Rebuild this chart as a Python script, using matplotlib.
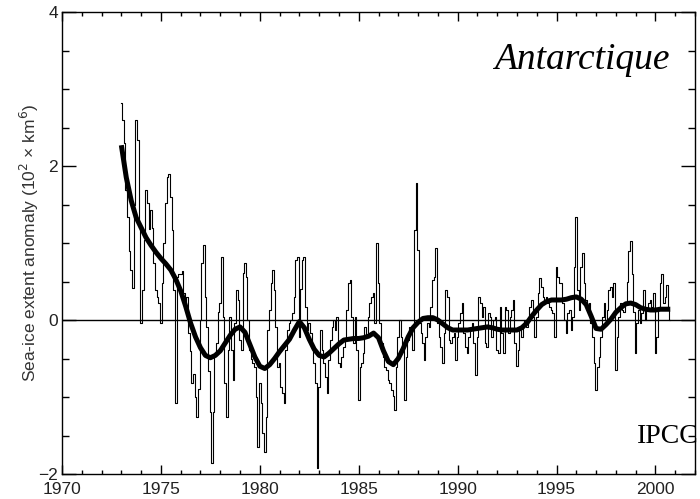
import matplotlib
matplotlib.use("Agg")
import matplotlib.pyplot as plt
import numpy as np
from matplotlib.ticker import MultipleLocator

# Monthly sea-ice extent anomaly, one list per year
y1973 = [2.82, 2.6, 2.3, 1.69, 1.34, 0.9, 0.65, 0.42, 1.5, 2.6, 2.34, 1.2]
y1974 = [-0.04, 0.39, 1.04, 1.69, 1.52, 1.18, 1.43, 1.2, 0.74, 0.39, 0.3, 0.22]
y1975 = [-0.04, 0.48, 1.0, 1.52, 1.86, 1.9, 1.6, 1.17, 0.39, -1.08, 0.56, 0.6]
y1976 = [0.6, 0.63, 0.35, 0.17, 0.3, -0.17, -0.4, -0.82, -0.7, -1.0, -1.26, -0.9]
y1977 = [0.0, 0.74, 0.97, 0.3, -0.09, -0.66, -1.2, -1.86, -1.2, -0.44, -0.3, 0.1]
y1978 = [0.22, 0.82, 0.04, -0.82, -1.26, -0.39, 0.04, -0.39, -0.78, -0.04, 0.39, 0.26]
y1979 = [-0.26, -0.39, 0.61, 0.74, 0.56, 0.0, -0.39, -0.5, -0.56, -0.61, -1.0, -1.65]
y1980 = [-0.82, -1.08, -1.47, -1.71, -1.26, -0.13, 0.13, 0.48, 0.65, 0.39, -0.09, -0.61]
y1981 = [-0.56, -0.87, -0.95, -1.08, -0.39, -0.13, -0.04, 0.0, 0.09, 0.3, 0.78, 0.82]
y1982 = [-0.22, 0.4, 0.78, 0.82, 0.17, -0.13, -0.04, -0.17, -0.3, -0.56, -0.82, -1.92]
y1983 = [-0.87, -0.13, -0.39, -0.56, -0.74, -0.95, -0.52, -0.26, -0.09, 0.0, -0.13, 0.04]
y1984 = [-0.56, -0.61, -0.48, -0.35, -0.26, 0.13, 0.48, 0.52, 0.04, -0.3, 0.04, -0.39]
y1985 = [-1.04, -0.61, -0.56, -0.43, -0.09, -0.22, 0.04, 0.22, 0.3, 0.35, -0.04, 1.0]
y1986 = [0.48, -0.04, -0.3, -0.48, -0.61, -0.65, -0.78, -0.82, -0.91, -0.99, -1.17, -0.61]
y1987 = [-0.22, 0.0, -0.22, -0.39, -1.04, -0.48, -0.26, -0.09, -0.13, -0.39, 1.17, 1.78]
y1988 = [0.91, -0.04, -0.17, -0.3, -0.52, -0.22, -0.04, -0.09, 0.17, 0.52, 0.56, 0.93]
y1989 = [-0.04, -0.22, -0.35, -0.56, -0.17, 0.39, 0.3, -0.26, -0.3, -0.22, -0.17, -0.52]
y1990 = [-0.22, -0.04, 0.09, 0.22, -0.17, -0.35, -0.43, -0.22, -0.13, -0.04, -0.3, -0.71]
y1991 = [-0.22, 0.3, 0.22, 0.04, 0.17, -0.3, -0.35, 0.09, 0.04, -0.22, 0.0, 0.04]
y1992 = [-0.39, -0.43, 0.17, -0.17, -0.43, 0.17, 0.13, -0.17, 0.04, 0.13, 0.26, -0.3]
y1993 = [-0.6, -0.39, -0.13, -0.22, -0.09, 0.0, -0.09, 0.04, 0.17, 0.26, 0.04, -0.22]
y1994 = [0.04, 0.35, 0.55, 0.43, 0.3, 0.26, 0.3, 0.22, 0.17, 0.13, 0.09, -0.22]
y1995 = [0.69, 0.56, 0.48, 0.48, 0.22, 0.0, -0.17, 0.09, 0.13, -0.13, 0.04, 0.69]
y1996 = [1.34, 0.39, 0.13, 0.69, 0.87, 0.48, 0.26, 0.13, 0.22, -0.04, -0.22, -0.56]
y1997 = [-0.91, -0.61, -0.48, -0.22, 0.04, 0.22, 0.0, 0.13, 0.39, 0.43, 0.3, 0.48]
y1998 = [-0.65, -0.22, 0.04, 0.22, 0.13, 0.1, 0.2, 0.5, 0.9, 1.02, 0.6, 0.1]
y1999 = [-0.43, -0.04, 0.13, -0.04, 0.09, 0.39, 0.0, 0.13, 0.22, 0.26, 0.17, 0.35]
y2000 = [-0.43, -0.22, 0.17, 0.48, 0.6, 0.22, 0.3, 0.45, 0.13, 0.0]

monthly = (y1973 + y1974 + y1975 + y1976 + y1977 + y1978 + y1979 + y1980 +
           y1981 + y1982 + y1983 + y1984 + y1985 + y1986 + y1987 + y1988 +
           y1989 + y1990 + y1991 + y1992 + y1993 + y1994 + y1995 + y1996 +
           y1997 + y1998 + y1999 + y2000)
start_year = 1973.0

# Smoothed curve (quarterly readings)
smooth_start = 1973.0
smooth_vals = [2.27, 1.85, 1.55, 1.33, 1.2, 1.07, 0.97, 0.88, 0.8, 0.73, 0.65, 0.53,
               0.38, 0.18, -0.04, -0.22, -0.36, -0.46, -0.49, -0.46, -0.4, -0.3, -0.2, -0.12,
               -0.09, -0.16, -0.32, -0.48, -0.6, -0.63, -0.58, -0.5, -0.41, -0.33, -0.25, -0.13,
               -0.02, -0.1, -0.25, -0.38, -0.46, -0.48, -0.43, -0.37, -0.31, -0.26, -0.25, -0.24,
               -0.24, -0.23, -0.21, -0.17, -0.23, -0.4, -0.54, -0.58, -0.5, -0.37, -0.22, -0.1,
               -0.03, 0.02, 0.03, 0.03, 0.0, -0.05, -0.1, -0.13, -0.13, -0.13, -0.13, -0.12,
               -0.11, -0.1, -0.09, -0.1, -0.12, -0.13, -0.13, -0.13, -0.13, -0.1, -0.04, 0.05,
               0.13, 0.2, 0.24, 0.26, 0.26, 0.26, 0.27, 0.29, 0.3, 0.27, 0.2, 0.05,
               -0.11, -0.12, -0.06, 0.01, 0.1, 0.16, 0.21, 0.22, 0.2, 0.16, 0.14, 0.13,
               0.13, 0.14, 0.14, 0.14]

x_major_ticks = [1970, 1975, 1980, 1985, 1990, 1995, 2000]
y_major_ticks = [-2, 0, 2, 4]
y_tick_labels = ["\u22122", "0", "2", "4"]

t_month = start_year + np.arange(len(monthly)) / 12.0
t_smooth = smooth_start + np.arange(len(smooth_vals)) * 0.25

fig = plt.figure(figsize=(7.0, 4.99), dpi=100)
ax = fig.add_axes([62/700, 1 - 474/499, (695 - 62)/700, (474 - 12)/499])

ax.axhline(0, color="black", lw=1.0, zorder=1)
ax.plot(t_month, monthly, color="black", lw=0.8, drawstyle="steps-mid", zorder=2)
ax.plot(t_smooth, smooth_vals, color="black", lw=3.6, solid_capstyle="butt", zorder=3)

ax.set_xlim(1970, 2002)
ax.set_ylim(-2, 4)
ax.set_xticks(x_major_ticks)
ax.set_xticklabels([str(v) for v in x_major_ticks])
ax.set_yticks(y_major_ticks)
ax.set_yticklabels(y_tick_labels)
ax.xaxis.set_minor_locator(MultipleLocator(1))
ax.yaxis.set_minor_locator(MultipleLocator(0.5))

for lab in ax.get_xticklabels() + ax.get_yticklabels():
    lab.set_fontfamily("Liberation Sans")
    lab.set_fontsize(12.5)
    lab.set_color("#222222")

ax.tick_params(axis="x", which="major", direction="in", length=6.5, width=1, top=True, pad=6)
ax.tick_params(axis="x", which="minor", direction="in", length=3, width=1, top=True)
ax.tick_params(axis="y", which="major", direction="in", length=10, width=1, right=True, pad=3)
ax.tick_params(axis="y", which="minor", direction="in", length=5, width=1, right=True)
for s in ax.spines.values():
    s.set_linewidth(1.0)

ax.set_ylabel("Sea-ice extent anomaly (10$^2$ \u00d7 km$^6$)", fontfamily="Liberation Sans",
              fontsize=12.5, color="#333333")
ax.yaxis.set_label_coords(-21/633, 0.5, transform=ax.transAxes)

fig.text(494/700, 1 - 69/499, "Antarctique", fontfamily="Liberation Serif",
         style="italic", fontsize=27, color="black", ha="left", va="baseline")
fig.text(637/700, 1 - 443/499, "IPCC:", fontfamily="Liberation Serif",
         fontsize=20, color="black", ha="left", va="baseline")

fig.savefig("out.png", dpi=100)
